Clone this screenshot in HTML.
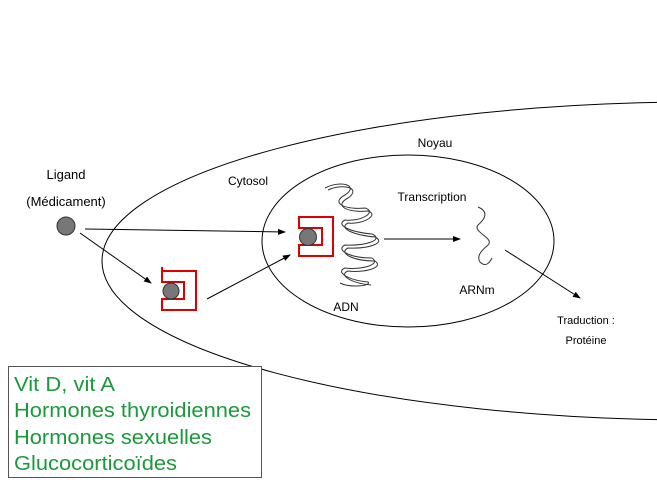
<!DOCTYPE html>
<html><head><meta charset="utf-8"><style>
html,body{margin:0;padding:0;background:#fff;}
svg{display:block;font-family:"Liberation Sans",sans-serif;}
</style></head><body>
<svg width="657" height="491" viewBox="0 0 657 491" xmlns="http://www.w3.org/2000/svg">
<defs><marker id="a" markerWidth="8" markerHeight="6" refX="7" refY="3" orient="auto" markerUnits="userSpaceOnUse"><path d="M0,0 L8,3 L0,6 z" fill="#000"/></marker></defs>
<rect width="657" height="491" fill="#fff"/>
<ellipse cx="700" cy="261" rx="598" ry="159" fill="none" stroke="#000" stroke-width="1"/>
<ellipse cx="408" cy="241" rx="146" ry="86" fill="none" stroke="#000" stroke-width="1"/>
<g font-size="12" fill="#000" text-anchor="middle">
<text x="435" y="147">Noyau</text>
<text x="248" y="185">Cytosol</text>
<text x="66" y="179" font-size="13">Ligand</text>
<text x="66" y="206" font-size="13">(Médicament)</text>
<text x="432" y="201">Transcription</text>
<text x="346" y="311">ADN</text>
<text x="477" y="294">ARNm</text>
<text x="586" y="324" font-size="11">Traduction :</text>
<text x="586" y="344" font-size="11">Protéine</text>
</g>
<g stroke="#000" stroke-width="1" marker-end="url(#a)">
<line x1="85" y1="229" x2="285" y2="232"/>
<line x1="80" y1="233" x2="151" y2="283"/>
<line x1="207" y1="299" x2="290" y2="255"/>
<line x1="384" y1="239" x2="460" y2="239"/>
<line x1="505" y1="250" x2="580" y2="298"/>
</g>
<circle cx="66" cy="226" r="9" fill="#777" stroke="#333"/>
<g fill="none" stroke="#333" stroke-width="1">
<path d="M325,188 C340,180 360,185 345,195 C330,203 345,210 365,208 C378,212 360,222 345,220 C335,225 350,232 372,234 C385,240 365,246 345,245 C335,250 350,258 372,258 C382,265 360,270 345,268 C335,272 348,280 368,282 C372,286 350,288 340,283"/>
<path d="M328,190 C343,183 362,188 348,198 C333,206 348,213 368,211 C380,215 362,225 348,223 C338,228 353,235 375,237 C387,243 368,249 348,248 C338,253 353,261 375,261 C385,268 363,273 348,271 C338,275 351,283 371,285"/>
<path d="M478,207 C490,212 484,220 478,225 C472,232 495,238 488,245 C482,250 476,256 480,262 C486,268 490,262 492,258"/>
</g>
<path d="M299,217 H333 V256 H299 V245 H322 V228 H299 Z" fill="none" stroke="#d00" stroke-width="2"/>
<circle cx="308" cy="237" r="8.5" fill="#777" stroke="#333"/>
<path d="M162,271 H196 V310 H162 V299 H184 V282 H162 Z M162,271 V267" fill="none" stroke="#d00" stroke-width="2"/>
<circle cx="171" cy="291" r="8" fill="#777" stroke="#333"/>
<rect x="8.5" y="366.5" width="253" height="111" fill="#fff" stroke="#555" stroke-width="1"/>
<g fill="#1a9a3a" font-size="20">
<text x="14" y="391" textLength="101" lengthAdjust="spacingAndGlyphs">Vit D, vit A</text>
<text x="14" y="417" textLength="237" lengthAdjust="spacingAndGlyphs">Hormones thyroidiennes</text>
<text x="14" y="444" textLength="198" lengthAdjust="spacingAndGlyphs">Hormones sexuelles</text>
<text x="14" y="470" textLength="163" lengthAdjust="spacingAndGlyphs">Glucocorticoïdes</text>
</g>
</svg>
</body></html>
